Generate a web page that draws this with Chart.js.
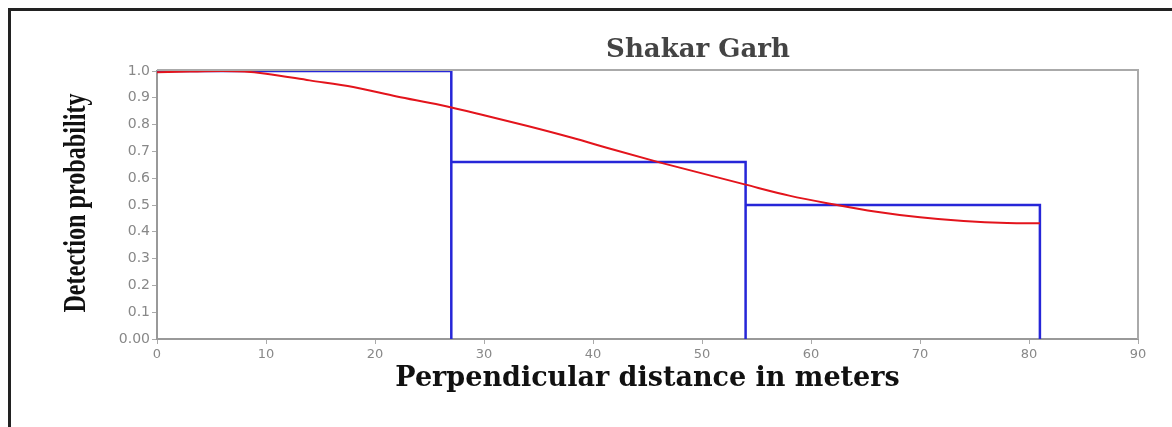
<!DOCTYPE html>
<html>
<head>
<meta charset="utf-8">
<script src="https://cdn.jsdelivr.net/npm/chart.js@4.4.1/dist/chart.umd.min.js"></script>
<style>
  body { margin: 0; background: #fff; }
  #wrap { position: relative; width: 1172px; height: 427px; overflow: hidden; }
  #frame { position: absolute; left: 8px; top: 8px; width: 1200px; height: 460px; border-left: 3px solid #222; border-top: 3px solid #222; }
  #chart { position: absolute; left: 0; top: 0; }
</style>
</head>
<body>
<div id="wrap">
  <div id="frame"></div>
  <canvas id="chart" width="1172" height="427"></canvas>
</div>
<script>
// histogram bins (perpendicular distance, m) and detection probability per bin
const binEdges = [0, 27, 54, 81];
const binHeights = [1.0, 0.66, 0.5];

// fitted detection function
const curveX = [0, 3, 6, 8, 10, 14, 18, 22, 26, 30, 34, 38, 42, 46, 50, 54, 58, 62, 66, 70, 74, 78, 81];
const curveY = [0.995, 0.998, 1.0, 0.998, 0.99, 0.965, 0.94, 0.905, 0.873, 0.835, 0.795, 0.752, 0.705, 0.66, 0.618, 0.576, 0.535, 0.503, 0.475, 0.454, 0.44, 0.433, 0.432];

const xTicks = [0, 10, 20, 30, 40, 50, 60, 70, 80, 90];
const yTicks = [0, 0.1, 0.2, 0.3, 0.4, 0.5, 0.6, 0.7, 0.8, 0.9, 1.0];
const yTickLabels = ['0.00', '0.1', '0.2', '0.3', '0.4', '0.5', '0.6', '0.7', '0.8', '0.9', '1.0'];

const titleText = 'Shakar Garh';
const xTitle = 'Perpendicular distance in meters';
const yTitle = 'Detection probability';

// outline of the histogram bars
const histPts = [];
binHeights.forEach((h, i) => {
  histPts.push({ x: binEdges[i], y: h });
  histPts.push({ x: binEdges[i + 1], y: h });
  histPts.push({ x: binEdges[i + 1], y: 0 });
});
const curvePts = curveX.map((x, i) => ({ x, y: curveY[i] }));

const decor = {
  id: 'decor',
  beforeDatasetsDraw(chart) {
    const { ctx, chartArea: a } = chart;
    ctx.save();
    ctx.strokeStyle = '#aaa';
    ctx.lineWidth = 2;
    ctx.beginPath();
    ctx.moveTo(a.left, a.top - 1);
    ctx.lineTo(a.right, a.top - 1);
    ctx.lineTo(a.right, a.bottom);
    ctx.stroke();
    ctx.restore();
  },
  afterDraw(chart) {
    const { ctx } = chart;
    ctx.save();
    ctx.fillStyle = '#444';
    ctx.font = 'bold 26px "DejaVu Serif"';
    ctx.textAlign = 'center';
    ctx.textBaseline = 'alphabetic';
    ctx.fillText(titleText, 698, 57);
    ctx.restore();

    ctx.save();
    ctx.translate(77, 203);
    ctx.rotate(-Math.PI / 2);
    ctx.scale(0.78, 1);
    ctx.fillStyle = '#111';
    ctx.font = 'bold 31px "Liberation Serif"';
    ctx.textAlign = 'center';
    ctx.textBaseline = 'middle';
    ctx.fillText(yTitle, 0, 0);
    ctx.restore();
  }
};

new Chart(document.getElementById('chart'), {
  type: 'line',
  data: {
    datasets: [
      { data: curvePts, borderColor: '#e3141c', borderWidth: 2, pointRadius: 0, tension: 0.4, cubicInterpolationMode: 'monotone', fill: false },
      { data: histPts, borderColor: '#2626d8', borderWidth: 2.5, pointRadius: 0, tension: 0, fill: false }
    ]
  },
  options: {
    responsive: false,
    animation: false,
    devicePixelRatio: 1,
    layout: { padding: { left: 0, right: 34, top: 71, bottom: 20 } },
    plugins: { legend: { display: false }, title: { display: false }, tooltip: { enabled: false } },
    scales: {
      x: {
        type: 'linear', min: 0, max: 90,
        afterBuildTicks: s => { s.ticks = xTicks.map(v => ({ value: v })); },
        afterFit: s => { s.height = 68; },
        ticks: { color: '#888', font: { family: 'DejaVu Sans', size: 13 }, padding: 3, maxRotation: 0 },
        grid: { drawOnChartArea: false, tickLength: 5, color: '#aaa' },
        border: { color: '#999', width: 2 },
        title: { display: true, text: xTitle, color: '#111', font: { family: 'DejaVu Serif', size: 27, weight: 'bold' }, padding: { top: 0, bottom: 12 } }
      },
      y: {
        type: 'linear', min: 0, max: 1,
        afterBuildTicks: s => { s.ticks = yTicks.map(v => ({ value: v })); },
        afterFit: s => { s.width = 157; },
        ticks: { color: '#888', font: { family: 'DejaVu Sans', size: 14 }, padding: 2, callback: (v, i) => yTickLabels[i] },
        grid: { drawOnChartArea: false, tickLength: 5, color: '#aaa' },
        border: { color: '#999', width: 2 }
      }
    }
  },
  plugins: [decor]
});
</script>
</body>
</html>
